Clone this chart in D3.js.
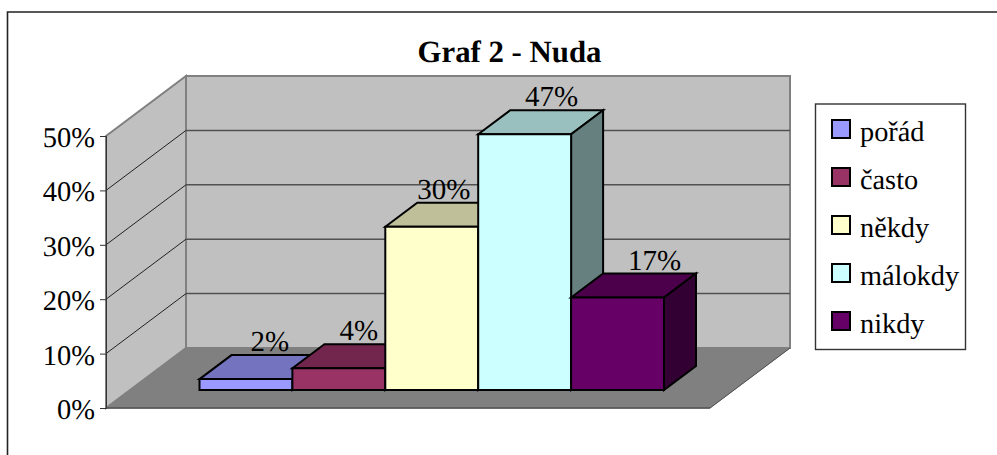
<!DOCTYPE html>
<html><head><meta charset="utf-8">
<script src="https://cdn.jsdelivr.net/npm/d3@7"></script>
<style>html,body{margin:0;padding:0;background:#fff}svg{display:block}text{font-family:"Liberation Serif",serif;fill:#000;text-rendering:geometricPrecision}</style>
</head><body><svg id="c" width="997" height="455"></svg>
<script>
const categories = ["pořád","často","někdy","málokdy","nikdy"];
const values = [2,4,30,47,17];
const tickValues = [0,10,20,30,40,50];
const frontColors = ["#9999ff","#993366","#ffffcc","#ccffff","#660066"];
const topColors = ["#7373bf","#73264d","#bfbf99","#99bfbf","#4c004c"];
const sideColors = ["#5c5c99","#5c1f3d","#99997a","#668080","#330033"];

const svg = d3.select("#c");
const y = d3.scaleLinear().domain([0,50]).range([408,136]);
const x = d3.scaleBand().domain(categories).range([199.5,664]);
const wallDx = 80, wallDy = -60, floorW = 604;
const x0 = 106, yBase = 408;
const barDy = -18, depthX = 32, depthY = -24;
const poly = (pts,fill,stroke,sw) => svg.append("polygon").attr("points",pts.map(p=>p.join(",")).join(" "))
  .attr("fill",fill).attr("stroke",stroke).attr("stroke-width",sw).attr("stroke-linejoin","miter");

// frame
svg.append("path").attr("d","M7.5,455V12H997").attr("fill","none").attr("stroke","#222").attr("stroke-width",1.6);

// title
svg.append("text").attr("x",509.5).attr("y",62).attr("text-anchor","middle").attr("font-size",30.8).attr("font-weight","bold").text("Graf 2 - Nuda");

// walls
const yTop = y(50), x1 = x0+wallDx, xR = x1+floorW;
poly([[x1,yTop+wallDy],[xR,yTop+wallDy],[xR,yBase+wallDy],[x1,yBase+wallDy]],"#c0c0c0","#808080",2);
poly([[x0,yTop],[x1,yTop+wallDy],[x1,yBase+wallDy],[x0,yBase]],"#c0c0c0","#808080",2);
poly([[x0,yBase],[x1,yBase+wallDy],[xR,yBase+wallDy],[x0+floorW,yBase]],"#808080","#808080",1);

// gridlines
tickValues.filter(t=>t>0&&t<50).forEach(t=>{
  svg.append("line").attr("x1",x1).attr("x2",xR).attr("y1",y(t)+wallDy).attr("y2",y(t)+wallDy).attr("stroke","#505050").attr("stroke-width",1.5);
  svg.append("line").attr("x1",x0).attr("x2",x1).attr("y1",y(t)).attr("y2",y(t)+wallDy).attr("stroke","#222").attr("stroke-width",1);
});
svg.append("path").attr("d",`M${x0},${yBase}H${x0+floorW}`).attr("stroke","#505050").attr("stroke-width",1.6);
svg.append("path").attr("d",`M${x0+floorW},${yBase}L${xR},${yBase+wallDy}`).attr("stroke","#505050").attr("stroke-width",1);

// axis
const axis = d3.axisLeft(y).tickValues(tickValues).tickFormat(d=>d+"%").tickSize(6).tickPadding(5);
const gA = svg.append("g").attr("transform",`translate(${x0},0)`).call(axis);
gA.selectAll("text").attr("font-size",28.5).style("font-family",'"Liberation Serif",serif').attr("dy","0.37em");
gA.selectAll("line,path").attr("stroke","#333");

// bars
const bw = x.bandwidth();
categories.forEach((c,i)=>{
  const xl = x(c), xr = xl+bw, yb = y(0)+barDy, yt = y(values[i])+barDy;
  poly([[xl,yt],[xl+depthX,yt+depthY],[xr+depthX,yt+depthY],[xr,yt]],topColors[i],"#000",2);
  poly([[xr,yt],[xr+depthX,yt+depthY],[xr+depthX,yb+depthY],[xr,yb]],sideColors[i],"#000",2);
  poly([[xl,yt],[xr,yt],[xr,yb],[xl,yb]],frontColors[i],"#000",2);
});
// labels
const labelShift = [24,20,12,27,37];
categories.forEach((c,i)=>{
  svg.append("text").attr("x",x(c)+bw/2+labelShift[i]).attr("y",y(values[i])+barDy+depthY-4)
    .attr("text-anchor","middle").attr("font-size",29).text(values[i]+"%");
});

// legend
svg.append("rect").attr("x",815.5).attr("y",104).attr("width",150).attr("height",245.5).attr("fill","#fff").attr("stroke","#333").attr("stroke-width",1.4);
const ly = d3.scalePoint().domain(categories).range([141,333]);
categories.forEach((c,i)=>{
  svg.append("rect").attr("x",832).attr("y",ly(c)-21).attr("width",18).attr("height",18).attr("fill",frontColors[i]).attr("stroke","#000").attr("stroke-width",2);
  svg.append("text").attr("x",860).attr("y",ly(c)).attr("font-size",28.3).text(c);
});
</script></body></html>
